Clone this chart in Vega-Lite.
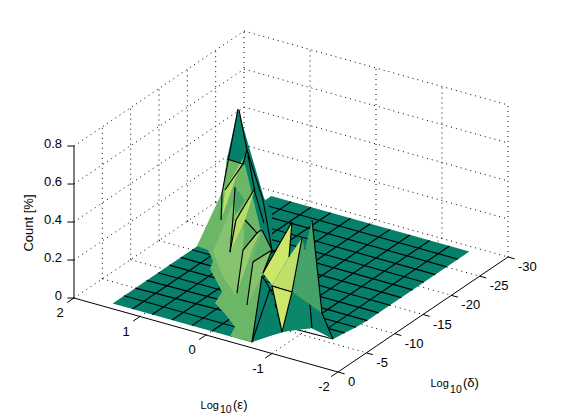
{"$schema":"https://vega.github.io/schema/vega-lite/v6.json","width":561,"height":420,"padding":0,"autosize":{"type":"none"},"background":"white","view":{"stroke":null},
"data":{"values":[
{"part":"grid","id":"g1","o":0,"eps":2,"delta":0,"count":0},{"part":"grid","id":"g1","o":1,"eps":2,"delta":-30,"count":0},
{"part":"grid","id":"g2","o":0,"eps":1,"delta":0,"count":0},{"part":"grid","id":"g2","o":1,"eps":1,"delta":-30,"count":0},
{"part":"grid","id":"g3","o":0,"eps":0,"delta":0,"count":0},{"part":"grid","id":"g3","o":1,"eps":0,"delta":-30,"count":0},
{"part":"grid","id":"g4","o":0,"eps":-1,"delta":0,"count":0},{"part":"grid","id":"g4","o":1,"eps":-1,"delta":-30,"count":0},
{"part":"grid","id":"g5","o":0,"eps":2,"delta":-5,"count":0},{"part":"grid","id":"g5","o":1,"eps":-2,"delta":-5,"count":0},
{"part":"grid","id":"g6","o":0,"eps":2,"delta":-10,"count":0},{"part":"grid","id":"g6","o":1,"eps":-2,"delta":-10,"count":0},
{"part":"grid","id":"g7","o":0,"eps":2,"delta":-15,"count":0},{"part":"grid","id":"g7","o":1,"eps":-2,"delta":-15,"count":0},
{"part":"grid","id":"g8","o":0,"eps":2,"delta":-20,"count":0},{"part":"grid","id":"g8","o":1,"eps":-2,"delta":-20,"count":0},
{"part":"grid","id":"g9","o":0,"eps":2,"delta":-25,"count":0},{"part":"grid","id":"g9","o":1,"eps":-2,"delta":-25,"count":0},
{"part":"grid","id":"g10","o":0,"eps":2,"delta":-30,"count":0},{"part":"grid","id":"g10","o":1,"eps":-2,"delta":-30,"count":0},
{"part":"grid","id":"g11","o":0,"eps":2,"delta":0,"count":0.2},{"part":"grid","id":"g11","o":1,"eps":2,"delta":-30,"count":0.2},
{"part":"grid","id":"g12","o":0,"eps":2,"delta":0,"count":0.4},{"part":"grid","id":"g12","o":1,"eps":2,"delta":-30,"count":0.4},
{"part":"grid","id":"g13","o":0,"eps":2,"delta":0,"count":0.6},{"part":"grid","id":"g13","o":1,"eps":2,"delta":-30,"count":0.6},
{"part":"grid","id":"g14","o":0,"eps":2,"delta":0,"count":0.8},{"part":"grid","id":"g14","o":1,"eps":2,"delta":-30,"count":0.8},
{"part":"grid","id":"g15","o":0,"eps":2,"delta":-5,"count":0},{"part":"grid","id":"g15","o":1,"eps":2,"delta":-5,"count":0.8},
{"part":"grid","id":"g16","o":0,"eps":2,"delta":-10,"count":0},{"part":"grid","id":"g16","o":1,"eps":2,"delta":-10,"count":0.8},
{"part":"grid","id":"g17","o":0,"eps":2,"delta":-15,"count":0},{"part":"grid","id":"g17","o":1,"eps":2,"delta":-15,"count":0.8},
{"part":"grid","id":"g18","o":0,"eps":2,"delta":-20,"count":0},{"part":"grid","id":"g18","o":1,"eps":2,"delta":-20,"count":0.8},
{"part":"grid","id":"g19","o":0,"eps":2,"delta":-25,"count":0},{"part":"grid","id":"g19","o":1,"eps":2,"delta":-25,"count":0.8},
{"part":"grid","id":"g20","o":0,"eps":2,"delta":-30,"count":0},{"part":"grid","id":"g20","o":1,"eps":2,"delta":-30,"count":0.8},
{"part":"grid","id":"g21","o":0,"eps":2,"delta":-30,"count":0.2},{"part":"grid","id":"g21","o":1,"eps":-2,"delta":-30,"count":0.2},
{"part":"grid","id":"g22","o":0,"eps":2,"delta":-30,"count":0.4},{"part":"grid","id":"g22","o":1,"eps":-2,"delta":-30,"count":0.4},
{"part":"grid","id":"g23","o":0,"eps":2,"delta":-30,"count":0.6},{"part":"grid","id":"g23","o":1,"eps":-2,"delta":-30,"count":0.6},
{"part":"grid","id":"g24","o":0,"eps":2,"delta":-30,"count":0.8},{"part":"grid","id":"g24","o":1,"eps":-2,"delta":-30,"count":0.8},
{"part":"grid","id":"g25","o":0,"eps":1,"delta":-30,"count":0},{"part":"grid","id":"g25","o":1,"eps":1,"delta":-30,"count":0.8},
{"part":"grid","id":"g26","o":0,"eps":0,"delta":-30,"count":0},{"part":"grid","id":"g26","o":1,"eps":0,"delta":-30,"count":0.8},
{"part":"grid","id":"g27","o":0,"eps":-1,"delta":-30,"count":0},{"part":"grid","id":"g27","o":1,"eps":-1,"delta":-30,"count":0.8},
{"part":"grid","id":"g28","o":0,"eps":-2,"delta":-30,"count":0},{"part":"grid","id":"g28","o":1,"eps":-2,"delta":-30,"count":0.8},

{"part":"axis","id":"a1","o":0,"eps":2,"delta":0,"count":0},{"part":"axis","id":"a1","o":1,"eps":-2,"delta":0,"count":0},
{"part":"axis","id":"a2","o":0,"eps":-2,"delta":0,"count":0},{"part":"axis","id":"a2","o":1,"eps":-2,"delta":-30,"count":0},
{"part":"axis","id":"a3","o":0,"eps":2,"delta":0,"count":0},{"part":"axis","id":"a3","o":1,"eps":2,"delta":0,"count":0.8},
{"part":"axis","id":"t1","o":0,"eps":2,"delta":0,"count":0},{"part":"axis","id":"t1","o":1,"eps":2,"delta":1.2,"count":0},
{"part":"axis","id":"t2","o":0,"eps":1,"delta":0,"count":0},{"part":"axis","id":"t2","o":1,"eps":1,"delta":1.2,"count":0},
{"part":"axis","id":"t3","o":0,"eps":0,"delta":0,"count":0},{"part":"axis","id":"t3","o":1,"eps":0,"delta":1.2,"count":0},
{"part":"axis","id":"t4","o":0,"eps":-1,"delta":0,"count":0},{"part":"axis","id":"t4","o":1,"eps":-1,"delta":1.2,"count":0},
{"part":"axis","id":"t5","o":0,"eps":-2,"delta":0,"count":0},{"part":"axis","id":"t5","o":1,"eps":-2,"delta":1.2,"count":0},
{"part":"axis","id":"t6","o":0,"eps":-2,"delta":0,"count":0},{"part":"axis","id":"t6","o":1,"eps":-2.1,"delta":0,"count":0},
{"part":"axis","id":"t7","o":0,"eps":-2,"delta":-5,"count":0},{"part":"axis","id":"t7","o":1,"eps":-2.1,"delta":-5,"count":0},
{"part":"axis","id":"t8","o":0,"eps":-2,"delta":-10,"count":0},{"part":"axis","id":"t8","o":1,"eps":-2.1,"delta":-10,"count":0},
{"part":"axis","id":"t9","o":0,"eps":-2,"delta":-15,"count":0},{"part":"axis","id":"t9","o":1,"eps":-2.1,"delta":-15,"count":0},
{"part":"axis","id":"t10","o":0,"eps":-2,"delta":-20,"count":0},{"part":"axis","id":"t10","o":1,"eps":-2.1,"delta":-20,"count":0},
{"part":"axis","id":"t11","o":0,"eps":-2,"delta":-25,"count":0},{"part":"axis","id":"t11","o":1,"eps":-2.1,"delta":-25,"count":0},
{"part":"axis","id":"t12","o":0,"eps":-2,"delta":-30,"count":0},{"part":"axis","id":"t12","o":1,"eps":-2.1,"delta":-30,"count":0},
{"part":"axis","id":"t13","o":0,"eps":2,"delta":0,"count":0},{"part":"axis","id":"t13","o":1,"eps":2.1,"delta":0,"count":-0.01},
{"part":"axis","id":"t14","o":0,"eps":2,"delta":0,"count":0.2},{"part":"axis","id":"t14","o":1,"eps":2.1,"delta":0,"count":0.19},
{"part":"axis","id":"t15","o":0,"eps":2,"delta":0,"count":0.4},{"part":"axis","id":"t15","o":1,"eps":2.1,"delta":0,"count":0.39},
{"part":"axis","id":"t16","o":0,"eps":2,"delta":0,"count":0.6},{"part":"axis","id":"t16","o":1,"eps":2.1,"delta":0,"count":0.59},
{"part":"axis","id":"t17","o":0,"eps":2,"delta":0,"count":0.8},{"part":"axis","id":"t17","o":1,"eps":2.1,"delta":0,"count":0.79},

{"part":"floor","id":"f","o":0,"eps":1.5,"delta":-1,"count":0,"shade":"teal"},
{"part":"floor","id":"f","o":1,"eps":-0.6,"delta":-1,"count":0,"shade":"teal"},
{"part":"floor","id":"f","o":2,"eps":-0.9,"delta":-1,"count":0.065,"shade":"teal"},
{"part":"floor","id":"f","o":3,"eps":-1.2,"delta":-1,"count":0.123,"shade":"teal"},
{"part":"floor","id":"f","o":4,"eps":-1.5,"delta":-1,"count":0.163,"shade":"teal"},
{"part":"floor","id":"f","o":5,"eps":-1.5,"delta":-3,"count":0.096,"shade":"teal"},
{"part":"floor","id":"f","o":6,"eps":-1.5,"delta":-5,"count":0.024,"shade":"teal"},
{"part":"floor","id":"f","o":7,"eps":-1.5,"delta":-7,"count":0.016,"shade":"teal"},
{"part":"floor","id":"f","o":8,"eps":-1.5,"delta":-9,"count":0.005,"shade":"teal"},
{"part":"floor","id":"f","o":9,"eps":-1.5,"delta":-11,"count":0,"shade":"teal"},
{"part":"floor","id":"f","o":10,"eps":-1.5,"delta":-29,"count":0,"shade":"teal"},
{"part":"floor","id":"f","o":11,"eps":1.5,"delta":-29,"count":0,"shade":"teal"},

{"part":"mesh","id":"m1","o":0,"eps":1.2,"delta":-1,"count":0},{"part":"mesh","id":"m1","o":1,"eps":1.2,"delta":-29,"count":0},
{"part":"mesh","id":"m2","o":0,"eps":0.9,"delta":-1,"count":0},{"part":"mesh","id":"m2","o":1,"eps":0.9,"delta":-29,"count":0},
{"part":"mesh","id":"m3","o":0,"eps":0.6,"delta":-1,"count":0},{"part":"mesh","id":"m3","o":1,"eps":0.6,"delta":-29,"count":0},
{"part":"mesh","id":"m4","o":0,"eps":0.3,"delta":-1,"count":0},{"part":"mesh","id":"m4","o":1,"eps":0.3,"delta":-29,"count":0},
{"part":"mesh","id":"m5","o":0,"eps":0,"delta":-1,"count":0},{"part":"mesh","id":"m5","o":1,"eps":0,"delta":-29,"count":0},
{"part":"mesh","id":"m6","o":0,"eps":-0.3,"delta":-1,"count":0},{"part":"mesh","id":"m6","o":1,"eps":-0.3,"delta":-29,"count":0},
{"part":"mesh","id":"m7","o":0,"eps":-0.6,"delta":-1,"count":0},{"part":"mesh","id":"m7","o":1,"eps":-0.6,"delta":-29,"count":0},
{"part":"mesh","id":"m8","o":0,"eps":-0.9,"delta":-7,"count":0},{"part":"mesh","id":"m8","o":1,"eps":-0.9,"delta":-29,"count":0},
{"part":"mesh","id":"m9","o":0,"eps":-1.2,"delta":-7,"count":0},{"part":"mesh","id":"m9","o":1,"eps":-1.2,"delta":-29,"count":0},
{"part":"mesh","id":"n3","o":0,"eps":1.5,"delta":-3,"count":0},{"part":"mesh","id":"n3","o":1,"eps":-0.6,"delta":-3,"count":0},
{"part":"mesh","id":"n5","o":0,"eps":1.5,"delta":-5,"count":0},{"part":"mesh","id":"n5","o":1,"eps":-1.5,"delta":-5,"count":0.024},
{"part":"mesh","id":"n7","o":0,"eps":1.5,"delta":-7,"count":0},{"part":"mesh","id":"n7","o":1,"eps":-1.5,"delta":-7,"count":0.016},
{"part":"mesh","id":"n9","o":0,"eps":1.5,"delta":-9,"count":0},{"part":"mesh","id":"n9","o":1,"eps":-1.5,"delta":-9,"count":0.005},
{"part":"mesh","id":"n11","o":0,"eps":1.5,"delta":-11,"count":0},{"part":"mesh","id":"n11","o":1,"eps":-1.5,"delta":-11,"count":0},
{"part":"mesh","id":"n13","o":0,"eps":1.5,"delta":-13,"count":0},{"part":"mesh","id":"n13","o":1,"eps":-1.5,"delta":-13,"count":0},
{"part":"mesh","id":"n15","o":0,"eps":1.5,"delta":-15,"count":0},{"part":"mesh","id":"n15","o":1,"eps":-1.5,"delta":-15,"count":0},
{"part":"mesh","id":"n17","o":0,"eps":1.5,"delta":-17,"count":0},{"part":"mesh","id":"n17","o":1,"eps":-1.5,"delta":-17,"count":0},
{"part":"mesh","id":"n19","o":0,"eps":1.5,"delta":-19,"count":0},{"part":"mesh","id":"n19","o":1,"eps":-1.5,"delta":-19,"count":0},
{"part":"mesh","id":"n21","o":0,"eps":1.5,"delta":-21,"count":0},{"part":"mesh","id":"n21","o":1,"eps":-1.5,"delta":-21,"count":0},
{"part":"mesh","id":"n23","o":0,"eps":1.5,"delta":-23,"count":0},{"part":"mesh","id":"n23","o":1,"eps":-1.5,"delta":-23,"count":0},
{"part":"mesh","id":"n25","o":0,"eps":1.5,"delta":-25,"count":0},{"part":"mesh","id":"n25","o":1,"eps":-1.5,"delta":-25,"count":0},
{"part":"mesh","id":"n27","o":0,"eps":1.5,"delta":-27,"count":0},{"part":"mesh","id":"n27","o":1,"eps":-1.5,"delta":-27,"count":0},

{"part":"poly","id":"pA","o":0,"eps":0.803,"delta":-15,"count":0.809,"shade":"teal"},
{"part":"poly","id":"pA","o":1,"eps":0.409,"delta":-15,"count":0.379,"shade":"teal"},
{"part":"poly","id":"pA","o":2,"eps":-0.227,"delta":-9,"count":0.488,"shade":"teal"},
{"part":"poly","id":"pA","o":3,"eps":-0.227,"delta":-9,"count":0.288,"shade":"teal"},
{"part":"poly","id":"pA","o":4,"eps":-0.076,"delta":-9,"count":0.136,"shade":"teal"},
{"part":"poly","id":"pA","o":5,"eps":0.333,"delta":-9,"count":0.128,"shade":"teal"},
{"part":"poly","id":"pA","o":6,"eps":0.53,"delta":-9,"count":0.477,"shade":"teal"},
{"part":"poly","id":"pA","o":7,"eps":0.97,"delta":-15,"count":0.529,"shade":"teal"},

{"part":"poly","id":"pB","o":0,"eps":0.909,"delta":-9,"count":0.198,"shade":"green"},
{"part":"poly","id":"pB","o":1,"eps":0.742,"delta":-9,"count":0.194,"shade":"green"},
{"part":"poly","id":"pB","o":2,"eps":0.667,"delta":-9,"count":0.143,"shade":"green"},
{"part":"poly","id":"pB","o":3,"eps":0.712,"delta":-9,"count":0.096,"shade":"green"},
{"part":"poly","id":"pB","o":4,"eps":-0.081,"delta":-1,"count":0.267,"shade":"green"},
{"part":"poly","id":"pB","o":5,"eps":-0.157,"delta":-1,"count":0.221,"shade":"green"},
{"part":"poly","id":"pB","o":6,"eps":-0.05,"delta":-1,"count":0.153,"shade":"green"},
{"part":"poly","id":"pB","o":7,"eps":-0.217,"delta":-1,"count":0.106,"shade":"green"},
{"part":"poly","id":"pB","o":8,"eps":-0.353,"delta":-1,"count":0.056,"shade":"green"},
{"part":"poly","id":"pB","o":9,"eps":-0.278,"delta":-1,"count":0,"shade":"green"},
{"part":"poly","id":"pB","o":10,"eps":-0.611,"delta":-1,"count":0.003,"shade":"green"},
{"part":"poly","id":"pB","o":11,"eps":-0.076,"delta":-9,"count":0.136,"shade":"green"},
{"part":"poly","id":"pB","o":12,"eps":-0.091,"delta":-9,"count":0.327,"shade":"green"},
{"part":"poly","id":"pB","o":13,"eps":0.697,"delta":-15,"count":0.524,"shade":"green"},
{"part":"poly","id":"pB","o":14,"eps":0.97,"delta":-15,"count":0.524,"shade":"green"},
{"part":"poly","id":"pB","o":15,"eps":1.03,"delta":-15,"count":0.36,"shade":"green"},

{"part":"poly","id":"pC","o":0,"eps":0.667,"delta":-9,"count":0.19,"shade":"light"},
{"part":"poly","id":"pC","o":1,"eps":0.379,"delta":-9,"count":0.466,"shade":"light"},
{"part":"poly","id":"pC","o":2,"eps":0.258,"delta":-9,"count":0.425,"shade":"light"},
{"part":"poly","id":"pC","o":3,"eps":0.136,"delta":-9,"count":0.253,"shade":"light"},
{"part":"poly","id":"pC","o":4,"eps":0.258,"delta":-9,"count":0.109,"shade":"light"},
{"part":"poly","id":"pC","o":5,"eps":-0.353,"delta":-1,"count":0.225,"shade":"light"},
{"part":"poly","id":"pC","o":6,"eps":0.53,"delta":-9,"count":0.083,"shade":"light"},

{"part":"poly","id":"pG2","o":0,"eps":0.97,"delta":-15,"count":0.529,"shade":"green"},
{"part":"poly","id":"pG2","o":1,"eps":0.727,"delta":-15,"count":0.527,"shade":"green"},
{"part":"poly","id":"pG2","o":2,"eps":1,"delta":-15,"count":0.363,"shade":"green"},
{"part":"poly","id":"pG2","o":3,"eps":1.03,"delta":-15,"count":0.371,"shade":"green"},

{"part":"poly","id":"pS1","o":0,"eps":0.697,"delta":-15,"count":0.577,"shade":"yellow"},
{"part":"poly","id":"pS1","o":1,"eps":1,"delta":-15,"count":0.363,"shade":"yellow"},
{"part":"poly","id":"pS1","o":2,"eps":0.53,"delta":-9,"count":0.388,"shade":"yellow"},
{"part":"poly","id":"pS1","o":3,"eps":0.848,"delta":-15,"count":0.431,"shade":"yellow"},

{"part":"poly","id":"pM0","o":0,"eps":0.848,"delta":-15,"count":0.394,"shade":"mid"},
{"part":"poly","id":"pM0","o":1,"eps":0.182,"delta":-9,"count":0.511,"shade":"mid"},
{"part":"poly","id":"pM0","o":2,"eps":0.212,"delta":-9,"count":0.493,"shade":"mid"},
{"part":"poly","id":"pM0","o":3,"eps":0.333,"delta":-9,"count":0.418,"shade":"mid"},

{"part":"poly","id":"pS2","o":0,"eps":0.545,"delta":-15,"count":0.418,"shade":"yellow"},
{"part":"poly","id":"pS2","o":1,"eps":0.318,"delta":-9,"count":0.393,"shade":"yellow"},
{"part":"poly","id":"pS2","o":2,"eps":0.409,"delta":-9,"count":0.215,"shade":"yellow"},
{"part":"poly","id":"pS2","o":3,"eps":0.182,"delta":-9,"count":0.406,"shade":"yellow"},

{"part":"poly","id":"pM","o":0,"eps":0.182,"delta":-9,"count":0.406,"shade":"mid2"},
{"part":"poly","id":"pM","o":1,"eps":0,"delta":-9,"count":0.355,"shade":"mid2"},
{"part":"poly","id":"pM","o":2,"eps":0.212,"delta":-9,"count":0.245,"shade":"mid2"},

{"part":"poly","id":"pE","o":0,"eps":-0.061,"delta":-9,"count":0.377,"shade":"lighter"},
{"part":"poly","id":"pE","o":1,"eps":0.212,"delta":-9,"count":0.245,"shade":"lighter"},
{"part":"poly","id":"pE","o":2,"eps":-0.384,"delta":-1,"count":0.238,"shade":"lighter"},
{"part":"poly","id":"pE","o":3,"eps":0.076,"delta":-9,"count":0.258,"shade":"lighter"},

{"part":"poly","id":"pG","o":0,"eps":-0.076,"delta":-9,"count":0.378,"shade":"mid2"},
{"part":"poly","id":"pG","o":1,"eps":-0.227,"delta":-9,"count":0.288,"shade":"mid2"},
{"part":"poly","id":"pG","o":2,"eps":0.061,"delta":-9,"count":0.207,"shade":"mid2"},
{"part":"poly","id":"pG","o":3,"eps":-0.015,"delta":-9,"count":0.294,"shade":"mid2"},

{"part":"poly","id":"pF","o":0,"eps":-0.227,"delta":-9,"count":0.288,"shade":"light"},
{"part":"poly","id":"pF","o":1,"eps":0.061,"delta":-9,"count":0.197,"shade":"light"},
{"part":"poly","id":"pF","o":2,"eps":-0.535,"delta":-1,"count":0.19,"shade":"light"},
{"part":"poly","id":"pF","o":3,"eps":-0.091,"delta":-9,"count":0.154,"shade":"light"},

{"part":"poly","id":"pD1","o":0,"eps":-0.076,"delta":-9,"count":0.136,"shade":"teal"},
{"part":"poly","id":"pD1","o":1,"eps":-0.884,"delta":-1,"count":0.308,"shade":"teal"},
{"part":"poly","id":"pD1","o":2,"eps":-1.066,"delta":-1,"count":0.099,"shade":"teal"},
{"part":"poly","id":"pD1","o":3,"eps":-0.611,"delta":-1,"count":0.003,"shade":"teal"},

{"part":"poly","id":"pD2","o":0,"eps":-1.217,"delta":-1,"count":0.325,"shade":"teal2"},
{"part":"poly","id":"pD2","o":1,"eps":-1.672,"delta":-1,"count":0.258,"shade":"teal2"},
{"part":"poly","id":"pD2","o":2,"eps":-1.52,"delta":-1,"count":0.165,"shade":"teal2"},
{"part":"poly","id":"pD2","o":3,"eps":-1.066,"delta":-1,"count":0.099,"shade":"teal2"},

{"part":"poly","id":"pD3","o":0,"eps":-1.672,"delta":-1,"count":0.258,"shade":"teal"},
{"part":"poly","id":"pD3","o":1,"eps":-1.838,"delta":-1,"count":0.138,"shade":"teal"},
{"part":"poly","id":"pD3","o":2,"eps":-1.52,"delta":-1,"count":0.165,"shade":"teal"},
{"part":"poly","id":"pD3","o":3,"eps":-1.49,"delta":-1,"count":0.267,"shade":"teal"},

{"part":"poly","id":"pM3","o":0,"eps":-0.833,"delta":-9,"count":0.505,"shade":"mid"},
{"part":"poly","id":"pM3","o":1,"eps":-1.672,"delta":-1,"count":0.258,"shade":"mid"},
{"part":"poly","id":"pM3","o":2,"eps":-1.217,"delta":-1,"count":0.325,"shade":"mid"},
{"part":"poly","id":"pM3","o":3,"eps":-0.682,"delta":-9,"count":0.395,"shade":"mid"},
{"part":"poly","id":"pM3","o":4,"eps":-0.727,"delta":-9,"count":0.337,"shade":"mid"},

{"part":"poly","id":"pY1","o":0,"eps":-0.091,"delta":-9,"count":0.154,"shade":"bright"},
{"part":"poly","id":"pY1","o":1,"eps":-0.53,"delta":-9,"count":0.465,"shade":"bright"},
{"part":"poly","id":"pY1","o":2,"eps":-0.485,"delta":-9,"count":0.276,"shade":"bright"},
{"part":"poly","id":"pY1","o":3,"eps":-0.914,"delta":-1,"count":0.332,"shade":"bright"},

{"part":"poly","id":"pY2","o":0,"eps":-0.485,"delta":-9,"count":0.276,"shade":"bright2"},
{"part":"poly","id":"pY2","o":1,"eps":-0.682,"delta":-9,"count":0.395,"shade":"bright2"},
{"part":"poly","id":"pY2","o":2,"eps":-1.217,"delta":-1,"count":0.325,"shade":"bright2"},
{"part":"poly","id":"pY2","o":3,"eps":-0.914,"delta":-1,"count":0.332,"shade":"bright2"},

{"part":"poly","id":"pV3","o":0,"eps":-0.914,"delta":-1,"count":0.327,"shade":"bright"},
{"part":"poly","id":"pV3","o":1,"eps":-1.217,"delta":-1,"count":0.325,"shade":"bright"},
{"part":"poly","id":"pV3","o":2,"eps":-1.066,"delta":-1,"count":0.099,"shade":"bright"},

{"part":"edge","id":"e1","o":0,"eps":0.803,"delta":-15,"count":0.809},{"part":"edge","id":"e1","o":1,"eps":0.955,"delta":-15,"count":0.515},{"part":"edge","id":"e1","o":2,"eps":1.045,"delta":-15,"count":0.343},{"part":"edge","id":"e1","o":3,"eps":0.545,"delta":-9,"count":0.371},
{"part":"edge","id":"e2","o":0,"eps":0.788,"delta":-15,"count":0.805},{"part":"edge","id":"e2","o":1,"eps":0.667,"delta":-15,"count":0.606},{"part":"edge","id":"e2","o":2,"eps":-0.091,"delta":-9,"count":0.538},{"part":"edge","id":"e2","o":3,"eps":-0.227,"delta":-9,"count":0.288},
{"part":"edge","id":"e3","o":0,"eps":0.97,"delta":-15,"count":0.529},{"part":"edge","id":"e3","o":1,"eps":0.727,"delta":-15,"count":0.527},{"part":"edge","id":"e3","o":2,"eps":0.667,"delta":-15,"count":0.606},
{"part":"edge","id":"e4","o":0,"eps":0.727,"delta":-15,"count":0.527},{"part":"edge","id":"e4","o":1,"eps":1,"delta":-15,"count":0.363},
{"part":"edge","id":"e5","o":0,"eps":0.652,"delta":-15,"count":0.581},{"part":"edge","id":"e5","o":1,"eps":0.545,"delta":-15,"count":0.392},{"part":"edge","id":"e5","o":2,"eps":-0.106,"delta":-9,"count":0.418},
{"part":"edge","id":"e6","o":0,"eps":0.848,"delta":-15,"count":0.394},{"part":"edge","id":"e6","o":1,"eps":0.364,"delta":-9,"count":0.399},{"part":"edge","id":"e6","o":2,"eps":0.409,"delta":-9,"count":0.215},
{"part":"edge","id":"e8","o":0,"eps":0.545,"delta":-15,"count":0.418},{"part":"edge","id":"e8","o":1,"eps":0.318,"delta":-9,"count":0.393},{"part":"edge","id":"e8","o":2,"eps":0.409,"delta":-9,"count":0.215},
{"part":"edge","id":"e9","o":0,"eps":0.182,"delta":-9,"count":0.406},{"part":"edge","id":"e9","o":1,"eps":0,"delta":-9,"count":0.355},{"part":"edge","id":"e9","o":2,"eps":0.212,"delta":-9,"count":0.245},{"part":"edge","id":"e9","o":3,"eps":-0.384,"delta":-1,"count":0.238},
{"part":"edge","id":"e10","o":0,"eps":-0.061,"delta":-9,"count":0.377},{"part":"edge","id":"e10","o":1,"eps":0,"delta":-9,"count":0.355},
{"part":"edge","id":"e11","o":0,"eps":-0.227,"delta":-9,"count":0.288},{"part":"edge","id":"e11","o":1,"eps":0.061,"delta":-9,"count":0.197},{"part":"edge","id":"e11","o":2,"eps":-0.535,"delta":-1,"count":0.19},
{"part":"edge","id":"e12","o":0,"eps":-0.076,"delta":-9,"count":0.378},{"part":"edge","id":"e12","o":1,"eps":-0.227,"delta":-9,"count":0.288},{"part":"edge","id":"e12","o":2,"eps":-0.091,"delta":-9,"count":0.154},
{"part":"edge","id":"e13","o":0,"eps":-0.091,"delta":-9,"count":0.154},{"part":"edge","id":"e13","o":1,"eps":-0.53,"delta":-9,"count":0.465},{"part":"edge","id":"e13","o":2,"eps":-0.485,"delta":-9,"count":0.276},
{"part":"edge","id":"e14","o":0,"eps":-0.076,"delta":-9,"count":0.136},{"part":"edge","id":"e14","o":1,"eps":-0.914,"delta":-1,"count":0.295},
{"part":"edge","id":"e15","o":0,"eps":-0.076,"delta":-9,"count":0.136},{"part":"edge","id":"e15","o":1,"eps":-0.611,"delta":-1,"count":0.003},
{"part":"edge","id":"e16","o":0,"eps":-0.884,"delta":-1,"count":0.308},{"part":"edge","id":"e16","o":1,"eps":-0.611,"delta":-1,"count":0.003},
{"part":"edge","id":"e17","o":0,"eps":-0.914,"delta":-1,"count":0.327},{"part":"edge","id":"e17","o":1,"eps":-1.217,"delta":-1,"count":0.325},{"part":"edge","id":"e17","o":2,"eps":-1.066,"delta":-1,"count":0.099},{"part":"edge","id":"e17","o":3,"eps":-0.914,"delta":-1,"count":0.327},
{"part":"edge","id":"e18","o":0,"eps":-0.682,"delta":-9,"count":0.395},{"part":"edge","id":"e18","o":1,"eps":-1.217,"delta":-1,"count":0.325},
{"part":"edge","id":"e19","o":0,"eps":-0.833,"delta":-9,"count":0.505},{"part":"edge","id":"e19","o":1,"eps":-1.672,"delta":-1,"count":0.258},{"part":"edge","id":"e19","o":2,"eps":-1.838,"delta":-1,"count":0.138},
{"part":"edge","id":"e20","o":0,"eps":-1.49,"delta":-1,"count":0.283},{"part":"edge","id":"e20","o":1,"eps":-1.52,"delta":-1,"count":0.165},

{"part":"zlab","eps":2,"delta":0,"count":0,"label":"0"},{"part":"zlab","eps":2,"delta":0,"count":0.2,"label":"0.2"},{"part":"zlab","eps":2,"delta":0,"count":0.4,"label":"0.4"},{"part":"zlab","eps":2,"delta":0,"count":0.6,"label":"0.6"},{"part":"zlab","eps":2,"delta":0,"count":0.8,"label":"0.8"},
{"part":"elab","eps":2,"delta":0,"count":0,"label":"2"},{"part":"elab","eps":1,"delta":0,"count":0,"label":"1"},{"part":"elab","eps":0,"delta":0,"count":0,"label":"0"},{"part":"elab","eps":-1,"delta":0,"count":0,"label":"-1"},{"part":"elab","eps":-2,"delta":0,"count":0,"label":"-2"},
{"part":"dlab","eps":-2,"delta":0,"count":0,"label":"0"},{"part":"dlab","eps":-2,"delta":-5,"count":0,"label":"-5"},{"part":"dlab","eps":-2,"delta":-10,"count":0,"label":"-10"},{"part":"dlab","eps":-2,"delta":-15,"count":0,"label":"-15"},{"part":"dlab","eps":-2,"delta":-20,"count":0,"label":"-20"},{"part":"dlab","eps":-2,"delta":-25,"count":0,"label":"-25"},{"part":"dlab","eps":-2,"delta":-30,"count":0,"label":"-30"},
{"part":"tlog","eps":-1.113,"delta":13.93,"count":0,"label":"Log"},{"part":"title","eps":-1.461,"delta":12.25,"count":0,"label":"(ε)"},
{"part":"tlog","eps":-3.228,"delta":-2.02,"count":0,"label":"Log"},{"part":"title","eps":-3.576,"delta":-3.7,"count":0,"label":"(δ)"},
{"part":"sub","eps":-1.385,"delta":13.66,"count":0,"label":"10"},{"part":"sub","eps":-3.526,"delta":-2.01,"count":0,"label":"10"},
{"part":"ctitle","eps":3.667,"delta":-11.52,"count":0,"label":"Count [%]"}
]},
"transform":[
{"calculate":"338-66*(datum.eps+2)-5.667*datum.delta","as":"px"},
{"calculate":"372-18.5*(datum.eps+2)+3.833*datum.delta-190*datum.count","as":"py"}
],
"encoding":{
"x":{"field":"px","type":"quantitative","axis":null,"scale":{"domain":[0,561],"nice":false,"zero":false}},
"y":{"field":"py","type":"quantitative","axis":null,"scale":{"domain":[420,0],"nice":false,"zero":false}}
},
"layer":[
{"transform":[{"filter":"datum.part==='grid'"}],"mark":{"type":"line","stroke":"black","strokeWidth":1,"strokeDash":[1,4],"interpolate":"linear"},"encoding":{"detail":{"field":"id"},"order":{"field":"o","type":"quantitative"}}},
{"transform":[{"filter":"datum.part==='floor'"}],"mark":{"type":"line","fill":"#06806A","strokeWidth":0},"encoding":{"detail":{"field":"id"},"order":{"field":"o","type":"quantitative"}}},
{"transform":[{"filter":"datum.part==='mesh'"}],"mark":{"type":"line","stroke":"black","strokeWidth":1.15},"encoding":{"detail":{"field":"id"},"order":{"field":"o","type":"quantitative"}}},
{"transform":[{"filter":"datum.part==='poly'"}],"mark":{"type":"line","strokeWidth":0},"encoding":{"detail":{"field":"id"},"order":{"field":"o","type":"quantitative"},"fill":{"field":"shade","type":"nominal","legend":null,"scale":{"domain":["teal","teal2","mid","mid2","green","light","lighter","yellow","bright","bright2"],"range":["#06806A","#0D8769","#46A268","#5FAE68","#6CB668","#85C36E","#98CC70","#B8DD68","#CDE76A","#BFE068"]}}}},
{"transform":[{"filter":"datum.part==='edge'"}],"mark":{"type":"line","stroke":"black","strokeWidth":1.15},"encoding":{"detail":{"field":"id"},"order":{"field":"o","type":"quantitative"}}},
{"transform":[{"filter":"datum.part==='axis'"}],"mark":{"type":"line","stroke":"black","strokeWidth":1},"encoding":{"detail":{"field":"id"},"order":{"field":"o","type":"quantitative"}}},
{"transform":[{"filter":"datum.part==='zlab'"}],"mark":{"type":"text","font":"Liberation Sans","fontSize":13,"align":"right","baseline":"middle","dx":-12,"dy":-2,"color":"black"},"encoding":{"text":{"field":"label"}}},
{"transform":[{"filter":"datum.part==='elab'"}],"mark":{"type":"text","font":"Liberation Sans","fontSize":13,"align":"center","baseline":"middle","dx":-14,"dy":15,"color":"black"},"encoding":{"text":{"field":"label"}}},
{"transform":[{"filter":"datum.part==='dlab'"}],"mark":{"type":"text","font":"Liberation Sans","fontSize":13,"align":"left","baseline":"middle","dx":10,"dy":10,"color":"black"},"encoding":{"text":{"field":"label"}}},
{"transform":[{"filter":"datum.part==='tlog'"}],"mark":{"type":"text","font":"Liberation Sans","fontSize":11,"align":"left","baseline":"alphabetic","color":"black"},"encoding":{"text":{"field":"label"}}},
{"transform":[{"filter":"datum.part==='title'"}],"mark":{"type":"text","font":"Liberation Sans","fontSize":13,"align":"left","baseline":"alphabetic","color":"black"},"encoding":{"text":{"field":"label"}}},
{"transform":[{"filter":"datum.part==='sub'"}],"mark":{"type":"text","font":"Liberation Sans","fontSize":10.5,"align":"left","baseline":"alphabetic","color":"black"},"encoding":{"text":{"field":"label"}}},
{"transform":[{"filter":"datum.part==='ctitle'"}],"mark":{"type":"text","font":"Liberation Sans","fontSize":13,"align":"center","baseline":"middle","angle":270,"color":"black"},"encoding":{"text":{"field":"label"}}}
]}
